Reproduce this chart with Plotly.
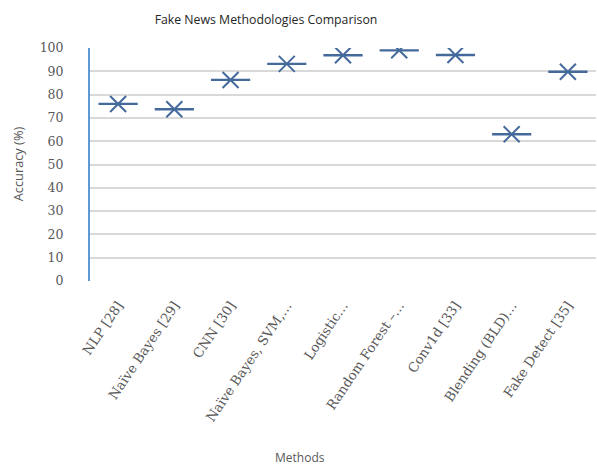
import plotly.graph_objects as go

methods = ["NLP [28]", "Naïve Bayes [29]", "CNN [30]", "Naïve Bayes, SVM,…", "Logistic…",
           "Random Forest –…", "Conv1d [33]", "Blending (BLD)…", "Fake Detect [35]"]
accuracy = [76, 73.7, 86.3, 93.2, 96.9, 99, 97, 63, 89.8]

color = "#44699b"
fig = go.Figure()
fig.add_trace(go.Scatter(x=methods, y=accuracy, mode="markers",
                         marker=dict(symbol="line-ew-open", size=28, color=color, line=dict(color=color, width=2.4)),
                         showlegend=False, hoverinfo="skip"))
fig.add_trace(go.Scatter(x=methods, y=accuracy, mode="markers",
                         marker=dict(symbol="x-thin-open", size=16, color=color, line=dict(color=color, width=2)),
                         showlegend=False))

W, H = 597, 466
L, R, T, B = 90, 1, 47.7, 185.3
fig.update_layout(
    width=W, height=H, margin=dict(l=L, r=R, t=T, b=B),
    plot_bgcolor="white", paper_bgcolor="white",
    title=dict(text="Fake News Methodologies Comparison", x=266/W, xanchor="center",
               y=1-20/H, yanchor="middle", font=dict(family="Open Sans", size=12.3, color="#262626")),
    xaxis=dict(tickangle=-56, tickfont=dict(family="DejaVu Serif", size=13.3, color="#595959"),
               showgrid=False, showline=False, ticks="", range=[-0.5, 8.5], ticklabelstandoff=13),
    yaxis=dict(range=[0, 100], tickvals=list(range(0, 101, 10)),
               tickfont=dict(family="DejaVu Serif", size=12.5, color="#595959"),
               showgrid=True, gridcolor="#d9d9d9", gridwidth=1.5, zeroline=False,
               showline=True, linecolor="#5b9bd5", linewidth=2, ticks="", ticklen=0,
               ticklabelstandoff=22),
    annotations=[
        dict(text="Methods", xref="paper", yref="paper", x=(300 - L)/(W - L - R), y=-(457 - (H - B))/(H - T - B),
             xanchor="center", yanchor="middle", showarrow=False,
             font=dict(family="Open Sans", size=12, color="#595959")),
        dict(text="Accuracy (%)", xref="paper", yref="paper", x=-(L - 18)/(W - L - R), y=(H - B - 164)/(H - T - B),
             xanchor="center", yanchor="middle", showarrow=False, textangle=-90,
             font=dict(family="Open Sans", size=12.8, color="#595959")),
    ],
)
fig.write_html("out.html")
